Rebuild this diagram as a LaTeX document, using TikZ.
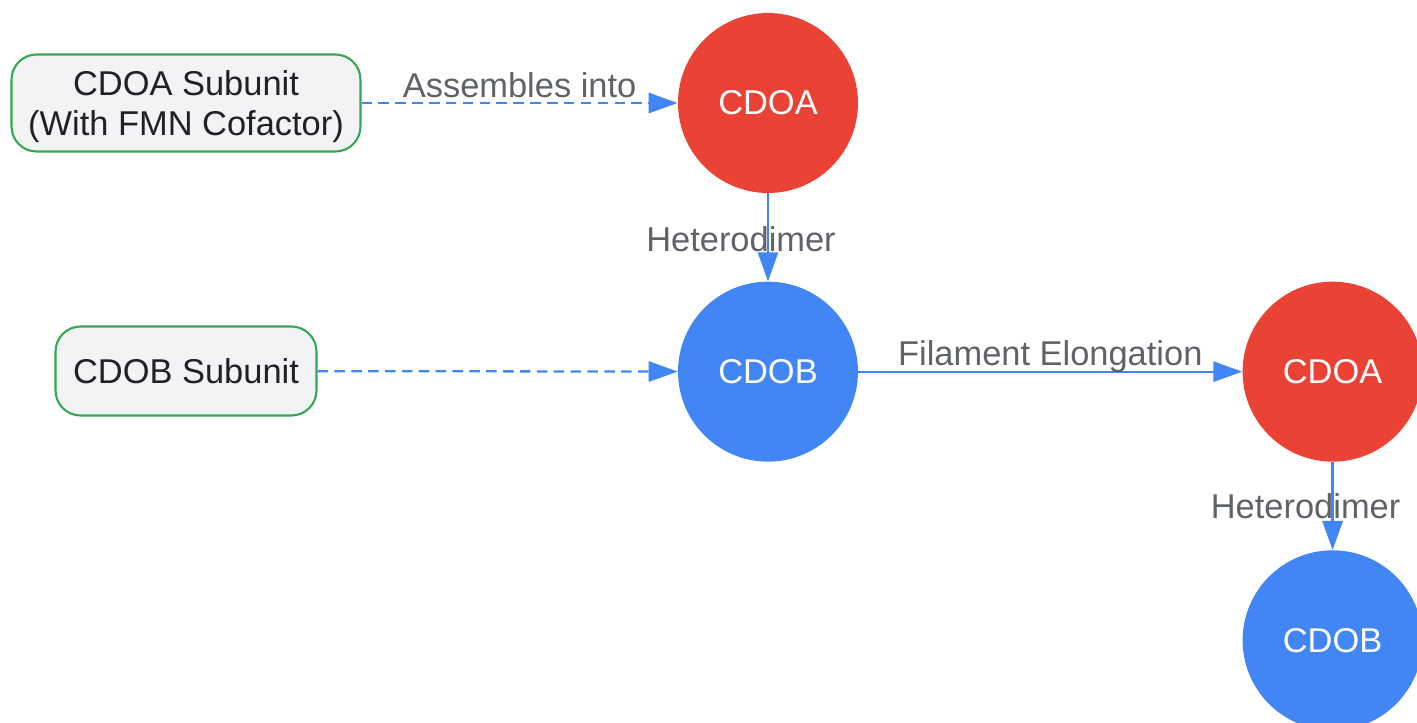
\documentclass[tikz,border=0pt]{standalone}
\usepackage{fontspec}
\setmainfont{Liberation Sans}
\usetikzlibrary{positioning, arrows.meta}
\definecolor{CdoRed}{HTML}{EA4335}
\definecolor{CdoBlue}{HTML}{4285F4}
\definecolor{SubGreen}{HTML}{34A853}
\definecolor{SubFill}{HTML}{F1F3F4}
\definecolor{BoxText}{HTML}{202124}
\definecolor{LabelGrey}{HTML}{5F6368}

\begin{document}
\begin{tikzpicture}[
			x=0.02cm, y=-0.02cm,
			every node/.style={font=\fontsize{19.6}{22.8}\selectfont},
			subunit/.style={draw=SubGreen,fill=SubFill,line width=1.2pt,rounded corners=0.5cm,align=center,text=BoxText,inner sep=0pt},
			protein/.style={circle,minimum size=3.6cm,inner sep=0pt,text=white},
			link/.style={draw=CdoBlue,line width=1.3pt,-{Triangle[length=16.5pt,width=11.5pt]}},
			assemble/.style={link,dash pattern=on 6pt off 3.6pt},
			lbl/.style={text=LabelGrey,inner sep=0pt,anchor=base}
		]
		\useasboundingbox (0,0) rectangle (1417,723);
		% subunits
		\node (subA) [subunit,text depth=0pt,minimum width=6.98cm,minimum height=1.94cm] at (186,103)
		{CDOA Subunit\\(With FMN Cofactor)};
		\node (subB) [subunit,minimum width=5.22cm,minimum height=1.78cm] at (186,371)
		{CDOB Subunit};
		% proteins
		\node (cdoaA) [protein,fill=CdoRed] at (768,103) {CDOA};
		\node (cdobA) [protein,fill=CdoBlue,below=1.76cm of cdoaA] {CDOB};
		\node (cdoaB) [protein,fill=CdoRed,right=7.68cm of cdobA] {CDOA};
		\node (cdobB) [protein,fill=CdoBlue,below=1.76cm of cdoaB] {CDOB};
		% links
		\draw [assemble] (subA) -- node[lbl,yshift=0.12cm] {Assembles into} (cdoaA);
		\draw [assemble] (subB) -- (cdobA);
		\draw [link] (cdoaA) -- node[lbl,xshift=-0.54cm,yshift=-0.28cm] {Heterodimer} (cdobA);
		\draw [link] (cdobA) -- node[lbl,yshift=0.12cm] {Filament Elongation} (cdoaB);
		\draw [link] (cdoaB) -- node[lbl,xshift=-0.54cm,yshift=-0.26cm] {Heterodimer} (cdobB);
	\end{tikzpicture}
\end{document}
